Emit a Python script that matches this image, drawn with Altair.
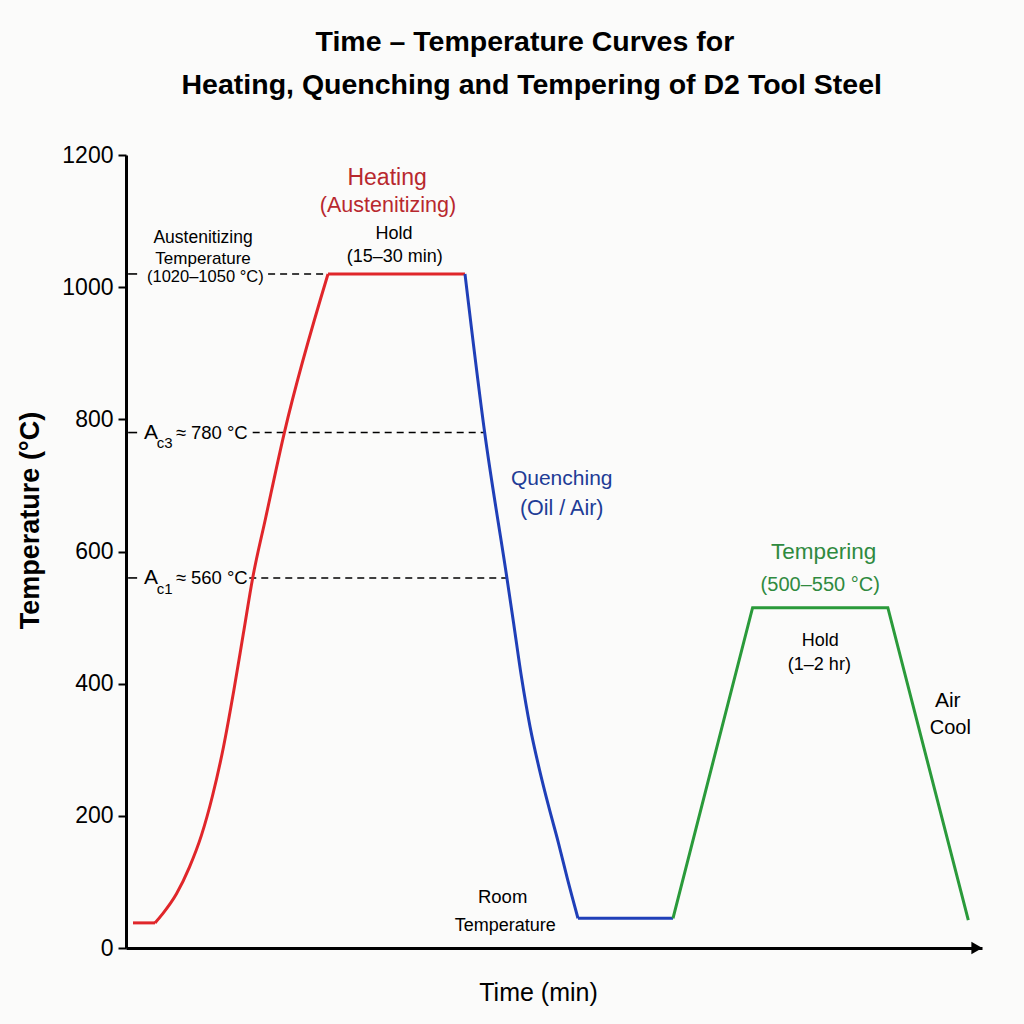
import altair as alt
import pandas as pd

FONT = "Liberation Sans, Arial, sans-serif"

# ---- curve data (time in arbitrary minutes, temperature in °C) ----
heat_rise_t = [3.39, 4.3, 5.9, 7.4, 8.8, 10.1, 11.4, 12.6, 13.7, 14.8, 16.3, 18.5, 23.6]
heat_rise_T = [38, 52, 82, 122, 170, 230, 305, 390, 475, 560, 650, 780, 1020]
heat_flat_t = [0.82, 3.39]
heat_flat_T = [38, 38]
heat_hold_t = [23.6, 39.6]
heat_hold_T = [1020, 1020]
quench_t = [39.6, 41.9, 44.5, 45.3, 46.2, 47.2, 48.3, 49.4, 50.5, 51.6, 52.8]
quench_T = [1020, 780, 560, 490, 410, 335, 270, 213, 160, 103, 45]
room_t = [52.8, 63.9]
room_T = [45, 45]
temper_t = [63.9, 73.2, 89.0, 98.4]
temper_T = [45, 515, 515, 42]

y_ticks = [0, 200, 400, 600, 800, 1000, 1200]

# reference levels: level, dashed segment start and end
ref_levels = [1020, 780, 560]
ref_start = [16.6, 14.8, 14.4]
ref_end = [23.6, 41.9, 44.5]

RED, BLUE, GREEN = "#e0262a", "#1f3fb8", "#2a9a3a"
RED_T, BLUE_T, GREEN_T = "#b8282e", "#213c96", "#2f8a3f"

def seg_df(series):
    rows = []
    for seg, phase, ts, Ts in series:
        for i, (a, b) in enumerate(zip(ts, Ts)):
            rows.append({"seg": seg, "phase": phase, "t": a, "T": b, "i": i})
    return pd.DataFrame(rows)

curved = seg_df([("heat_rise", "heat", heat_rise_t, heat_rise_T),
                 ("quench", "quench", quench_t, quench_T)])
straight = seg_df([("heat_flat", "heat", heat_flat_t, heat_flat_T),
                   ("heat_hold", "heat", heat_hold_t, heat_hold_T),
                   ("room", "quench", room_t, room_T),
                   ("temper", "temper", temper_t, temper_T)])

xs = alt.Scale(domain=[0, 100], nice=False, zero=False)
ys = alt.Scale(domain=[0, 1200], nice=False)
X = alt.X("t:Q", scale=xs, axis=alt.Axis(
    title="Time (min)", labels=False, ticks=False, grid=False,
    domainColor="black", domainWidth=3,
    titleFont=FONT, titleFontSize=25, titleFontWeight="normal", titleColor="black",
    titleX=412, titleY=44, titleBaseline="middle", titleAlign="center"))
Y = alt.Y("T:Q", scale=ys, axis=alt.Axis(
    title="Temperature (°C)", values=y_ticks, format="d", grid=False,
    domainColor="black", domainWidth=3, tickColor="black", tickWidth=2, tickSize=8,
    labelFont=FONT, labelFontSize=23, labelColor="black", labelPadding=5,
    titleFont=FONT, titleFontSize=27, titleFontWeight="bold", titleColor="black",
    titleAngle=-90, titleX=-96, titleY=365, titleAlign="center", titleBaseline="middle"))

COLOR = alt.Color("phase:N", scale=alt.Scale(domain=["heat", "quench", "temper"], range=[RED, BLUE, GREEN]), legend=None)

lines_curved = alt.Chart(curved).mark_line(strokeWidth=3, interpolate="monotone").encode(
    x=X, y=Y, order="i:Q", detail="seg:N", color=COLOR)
lines_straight = alt.Chart(straight).mark_line(strokeWidth=3, strokeJoin="miter").encode(
    x=X, y=Y, order="i:Q", detail="seg:N", color=COLOR)

# dashed reference lines
dash_df = pd.DataFrame({"t": ref_start, "t2": ref_end, "T": ref_levels})
dashes = alt.Chart(dash_df).mark_rule(strokeDash=[7, 5], strokeWidth=1.6, color="black").encode(
    x=X, x2="t2:Q", y=Y)
stub_df = pd.DataFrame({"t": [0.25] * 3, "t2": [1.3] * 3, "T": ref_levels})
stubs = alt.Chart(stub_df).mark_rule(strokeWidth=1.6, color="black").encode(x=X, x2="t2:Q", y=Y)

# arrow head on time axis
arrow = alt.Chart(pd.DataFrame({"t": [99.4], "T": [0]})).mark_point(
    shape="triangle-right", filled=True, color="black", size=160, opacity=1).encode(x=X, y=Y)

# annotations: (t, T, text, font size, colour, weight)
center_labels = [
    (46.6, 1371, "Time – Temperature Curves for", 28.5, "black", "bold"),
    (47.4, 1306, "Heating, Quenching and Tempering of D2 Tool Steel", 28.5, "black", "bold"),
    (30.5, 1165, "Heating", 23, RED_T, "normal"),
    (30.6, 1123, "(Austenitizing)", 21.5, RED_T, "normal"),
    (31.3, 1081, "Hold", 18, "black", "normal"),
    (31.4, 1046, "(15–30 min)", 18, "black", "normal"),
    (50.9, 710, "Quenching", 21, BLUE_T, "normal"),
    (50.9, 664, "(Oil / Air)", 21.5, BLUE_T, "normal"),
    (9.0, 1074, "Austenitizing", 17.5, "black", "normal"),
    (9.0, 1043, "Temperature", 17, "black", "normal"),
    (44.0, 77, "Room", 18.5, "black", "normal"),
    (44.3, 33, "Temperature", 18, "black", "normal"),
    (81.5, 599, "Tempering", 22.5, GREEN_T, "normal"),
    (81.1, 549, "(500–550 °C)", 20, GREEN_T, "normal"),
    (81.1, 465, "Hold", 18, "black", "normal"),
    (81.0, 428, "(1–2 hr)", 18, "black", "normal"),
    (96.0, 374, "Air", 21, "black", "normal"),
    (96.3, 333, "Cool", 20, "black", "normal"),
]
left_labels = [
    (2.45, 1016, "(1020–1050 °C)", 16.5),
    (2.1, 780, "A", 21),
    (3.6, 764, "c3", 15),
    (5.8, 780, "≈ 780 °C", 18.5),
    (2.1, 560, "A", 21),
    (3.6, 544, "c1", 15),
    (5.8, 560, "≈ 560 °C", 18.5),
]

def text_layer(items, align, weight):
    df = pd.DataFrame(items, columns=["t", "T", "text", "size", "color"])
    return alt.Chart(df).mark_text(align=align, baseline="middle", font=FONT, fontWeight=weight).encode(
        x=X, y=Y, text="text:N",
        size=alt.Size("size:Q", scale=None, legend=None),
        color=alt.Color("color:N", scale=None, legend=None))

bold_items = [c[:5] for c in center_labels if c[5] == "bold"]
norm_items = [c[:5] for c in center_labels if c[5] == "normal"]
left_items = [(a, b, c, d, "black") for a, b, c, d in left_labels]

chart = alt.layer(
    dashes, stubs, lines_straight, lines_curved, arrow,
    text_layer(bold_items, "center", "bold"),
    text_layer(norm_items, "center", "normal"),
    text_layer(left_items, "left", "normal"),
).properties(
    width=856, height=793,
    autosize=alt.AutoSizeParams(type="none"),
    padding={"left": 126, "top": 155, "right": 42, "bottom": 76},
    background="#fbfbfa",
).configure_view(stroke=None)

chart.save("out.html", embed_options={"renderer": "svg", "actions": False})
